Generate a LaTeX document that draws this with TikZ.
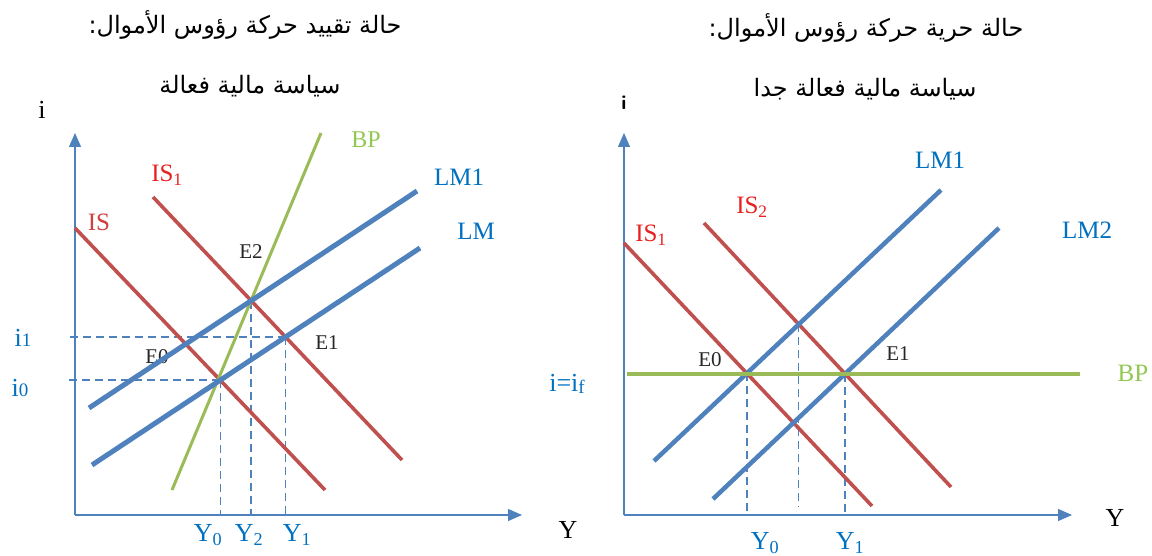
\documentclass[tikz,border=0pt]{standalone}
\usepackage{fontspec}
\setmainfont{Liberation Serif}
\newfontfamily\arabicfont[Script=Arabic]{DejaVu Sans}
\TeXXeTstate=1
\usepackage{xcolor}
\usepackage{tikz}
\usetikzlibrary{arrows.meta, intersections}
\definecolor{isred}{RGB}{192,80,77}
\definecolor{lmblue}{RGB}{79,129,189}
\definecolor{bpgreen}{RGB}{155,187,89}
\definecolor{labred}{RGB}{232,32,32}
\definecolor{labblue}{RGB}{0,112,192}
\definecolor{labgreen}{RGB}{146,200,80}
\tikzset{
	axis_line/.style={draw=lmblue, line width=1.2pt, -{Triangle[length=14pt, width=12pt]}},
	is_curve/.style={draw=isred, line width=3.6pt},
	lm_curve/.style={draw=lmblue, line width=5pt},
	bp_curve/.style={draw=bpgreen, line width=3pt},
	guide_line/.style={draw=lmblue, line width=1.4pt, dash pattern=on 8pt off 5pt},
	title_text/.style={font=\arabicfont\fontsize{24}{28}\selectfont, text=black},
	curve_label/.style={font=\fontsize{25}{30}\selectfont, inner sep=0pt},
	point_label/.style={font=\fontsize{21}{24}\selectfont, text=black!85, inner sep=0pt},
	axis_label/.style={font=\fontsize{26}{30}\selectfont, text=black, inner sep=0pt},
	value_label/.style={font=\fontsize{26}{30}\selectfont, text=labblue, inner sep=0pt}
}
\newcommand{\smallidx}[1]{{\fontsize{19}{20}\selectfont #1}}

\begin{document}
\begin{tikzpicture}[x=1pt, y=-1pt]
	\useasboundingbox (0,0) rectangle (1152,556);
	\node[title_text] (title_a) at (245,25) {\beginR حالة تقييد حركة رؤوس الأموال:\endR};
	\node[title_text] (sub_a) at (250,86) {\beginR سياسة مالية فعالة\endR};
	\coordinate (orig_a) at (75,515);
	\coordinate (top_a) at (75,133);
	\coordinate (right_a) at (522,515);
	\coordinate (tick_a) at (66,515);
	\draw[axis_line] (orig_a) -- (top_a);
	\draw[axis_line] (orig_a) -- (right_a);
	\node[axis_label] (i_a) at (42,110) {i};
	\node[axis_label] (y_a) at (568,530) {Y};
	\coordinate (is0_s) at (75,228);
	\coordinate (is0_e) at (325,490);
	\coordinate (is1_s) at (153,197);
	\coordinate (is1_e) at (402,460);
	\coordinate (bp_s) at (172,490);
	\coordinate (bp_e) at (321,133);
	\coordinate (lm1_s) at (89,408);
	\coordinate (lm1_e) at (417,191);
	\coordinate (lm0_s) at (92,465);
	\coordinate (lm0_e) at (420,248);
	\path[name path=is0] (is0_s) -- (is0_e);
	\path[name path=is1] (is1_s) -- (is1_e);
	\path[name path=lm0] (lm0_s) -- (lm0_e);
	\path[name path=lm1] (lm1_s) -- (lm1_e);
	\path[name intersections={of=is0 and lm0, by=e0_a}];
	\path[name intersections={of=is1 and lm0, by=e1_a}];
	\path[name intersections={of=is1 and lm1, by=e2_a}];
	\draw[guide_line] (e1_a) -- (e1_a -| tick_a);
	\draw[guide_line] (e0_a) -- (e0_a -| tick_a);
	\draw[guide_line] (e0_a) -- (e0_a |- orig_a);
	\draw[guide_line] (e2_a) -- (e2_a |- orig_a);
	\draw[guide_line] (e1_a) -- (e1_a |- orig_a);
	\node[point_label] (lab_e0a) at (157,357) {E0};
	\draw[is_curve] (is0_s) -- (is0_e);
	\draw[is_curve] (is1_s) -- (is1_e);
	\draw[bp_curve] (bp_s) -- (bp_e);
	\draw[lm_curve] (lm0_s) -- (lm0_e);
	\draw[lm_curve] (lm1_s) -- (lm1_e);
	\node[curve_label, text=isred!80!red] (lab_is0) at (99,222) {IS};
	\node[curve_label, text=labred] (lab_is1) at (167,175) {IS\textsubscript{1}};
	\node[curve_label, text=labgreen, font=\fontsize{24}{28}\selectfont] (lab_bp) at (366,140) {BP};
	\node[curve_label, text=labblue] (lab_lm1) at (459,177) {LM1};
	\node[curve_label, text=labblue] (lab_lm0) at (476,231) {LM};
	\node[point_label] (lab_e2a) at (251,252) {E2};
	\node[point_label] (lab_e1a) at (327,343) {E1};
	\node[value_label] (lab_i1) at (23,338) {i\smallidx{1}};
	\node[value_label] (lab_i0) at (20,388) {i\smallidx{0}};
	\node[value_label] (lab_y0a) at (208,535) {Y\textsubscript{0}};
	\node[value_label] (lab_y2a) at (249,535) {Y\textsubscript{2}};
	\node[value_label] (lab_y1a) at (297,535) {Y\textsubscript{1}};
	\node[title_text] (title_b) at (866,28) {\beginR حالة حرية حركة رؤوس الأموال:\endR};
	\node[title_text] (sub_b) at (865,89) {\beginR سياسة مالية فعالة جدا\endR};
	\coordinate (orig_b) at (624,515);
	\coordinate (top_b) at (624,133);
	\coordinate (right_b) at (1072,515);
	\draw[axis_line] (orig_b) -- (top_b);
	\draw[axis_line] (orig_b) -- (right_b);
	\node[axis_label, font=\sffamily\bfseries\fontsize{20}{24}\selectfont] (i_b) at (624,103) {i};
	\node[axis_label] (y_b) at (1115,518) {Y};
	\coordinate (isb1_s) at (624,243);
	\coordinate (isb1_e) at (872,506);
	\coordinate (isb2_s) at (704,223);
	\coordinate (isb2_e) at (951,487);
	\coordinate (lmb1_s) at (654,461);
	\coordinate (lmb1_e) at (941,190);
	\coordinate (lmb2_s) at (713,499);
	\coordinate (lmb2_e) at (999,228);
	\coordinate (bpb_s) at (627,374);
	\coordinate (bpb_e) at (1080,374);
	\path[name path=isb1] (isb1_s) -- (isb1_e);
	\path[name path=isb2] (isb2_s) -- (isb2_e);
	\path[name path=lmb1] (lmb1_s) -- (lmb1_e);
	\path[name path=lmb2] (lmb2_s) -- (lmb2_e);
	\path[name intersections={of=isb1 and lmb1, by=e0_b}];
	\path[name intersections={of=isb2 and lmb2, by=e1_b}];
	\path[name intersections={of=isb2 and lmb1, by=e2_b}];
	\draw[guide_line] (e0_b) -- (e0_b |- orig_b);
	\draw[guide_line, shorten >=8pt] (e2_b) -- (e2_b |- orig_b);
	\draw[guide_line] (e1_b) -- (e1_b |- orig_b);
	\draw[is_curve] (isb1_s) -- (isb1_e);
	\draw[is_curve] (isb2_s) -- (isb2_e);
	\draw[lm_curve, line width=4.5pt] (lmb1_s) -- (lmb1_e);
	\draw[lm_curve, line width=4.5pt] (lmb2_s) -- (lmb2_e);
	\draw[bp_curve, line width=4pt] (bpb_s) -- (bpb_e);
	\node[curve_label, text=labred] (lab_isb1) at (651,235) {IS\textsubscript{1}};
	\node[curve_label, text=labred] (lab_isb2) at (752,207) {IS\textsubscript{2}};
	\node[curve_label, text=labblue] (lab_lmb1) at (940,160) {LM1};
	\node[curve_label, text=labblue] (lab_lmb2) at (1087,230) {LM2};
	\node[curve_label, text=labgreen] (lab_bpb) at (1133,373) {BP};
	\node[point_label] (lab_e0b) at (710,360) {E0};
	\node[point_label] (lab_e1b) at (898,354) {E1};
	\node[value_label] (lab_if) at (567,384) {i=i\smallidx{\raisebox{-2pt}{f}}};
	\node[value_label] (lab_y0b) at (765,543) {Y\textsubscript{0}};
	\node[value_label] (lab_y1b) at (850,543) {Y\textsubscript{1}};
\end{tikzpicture}
\end{document}
